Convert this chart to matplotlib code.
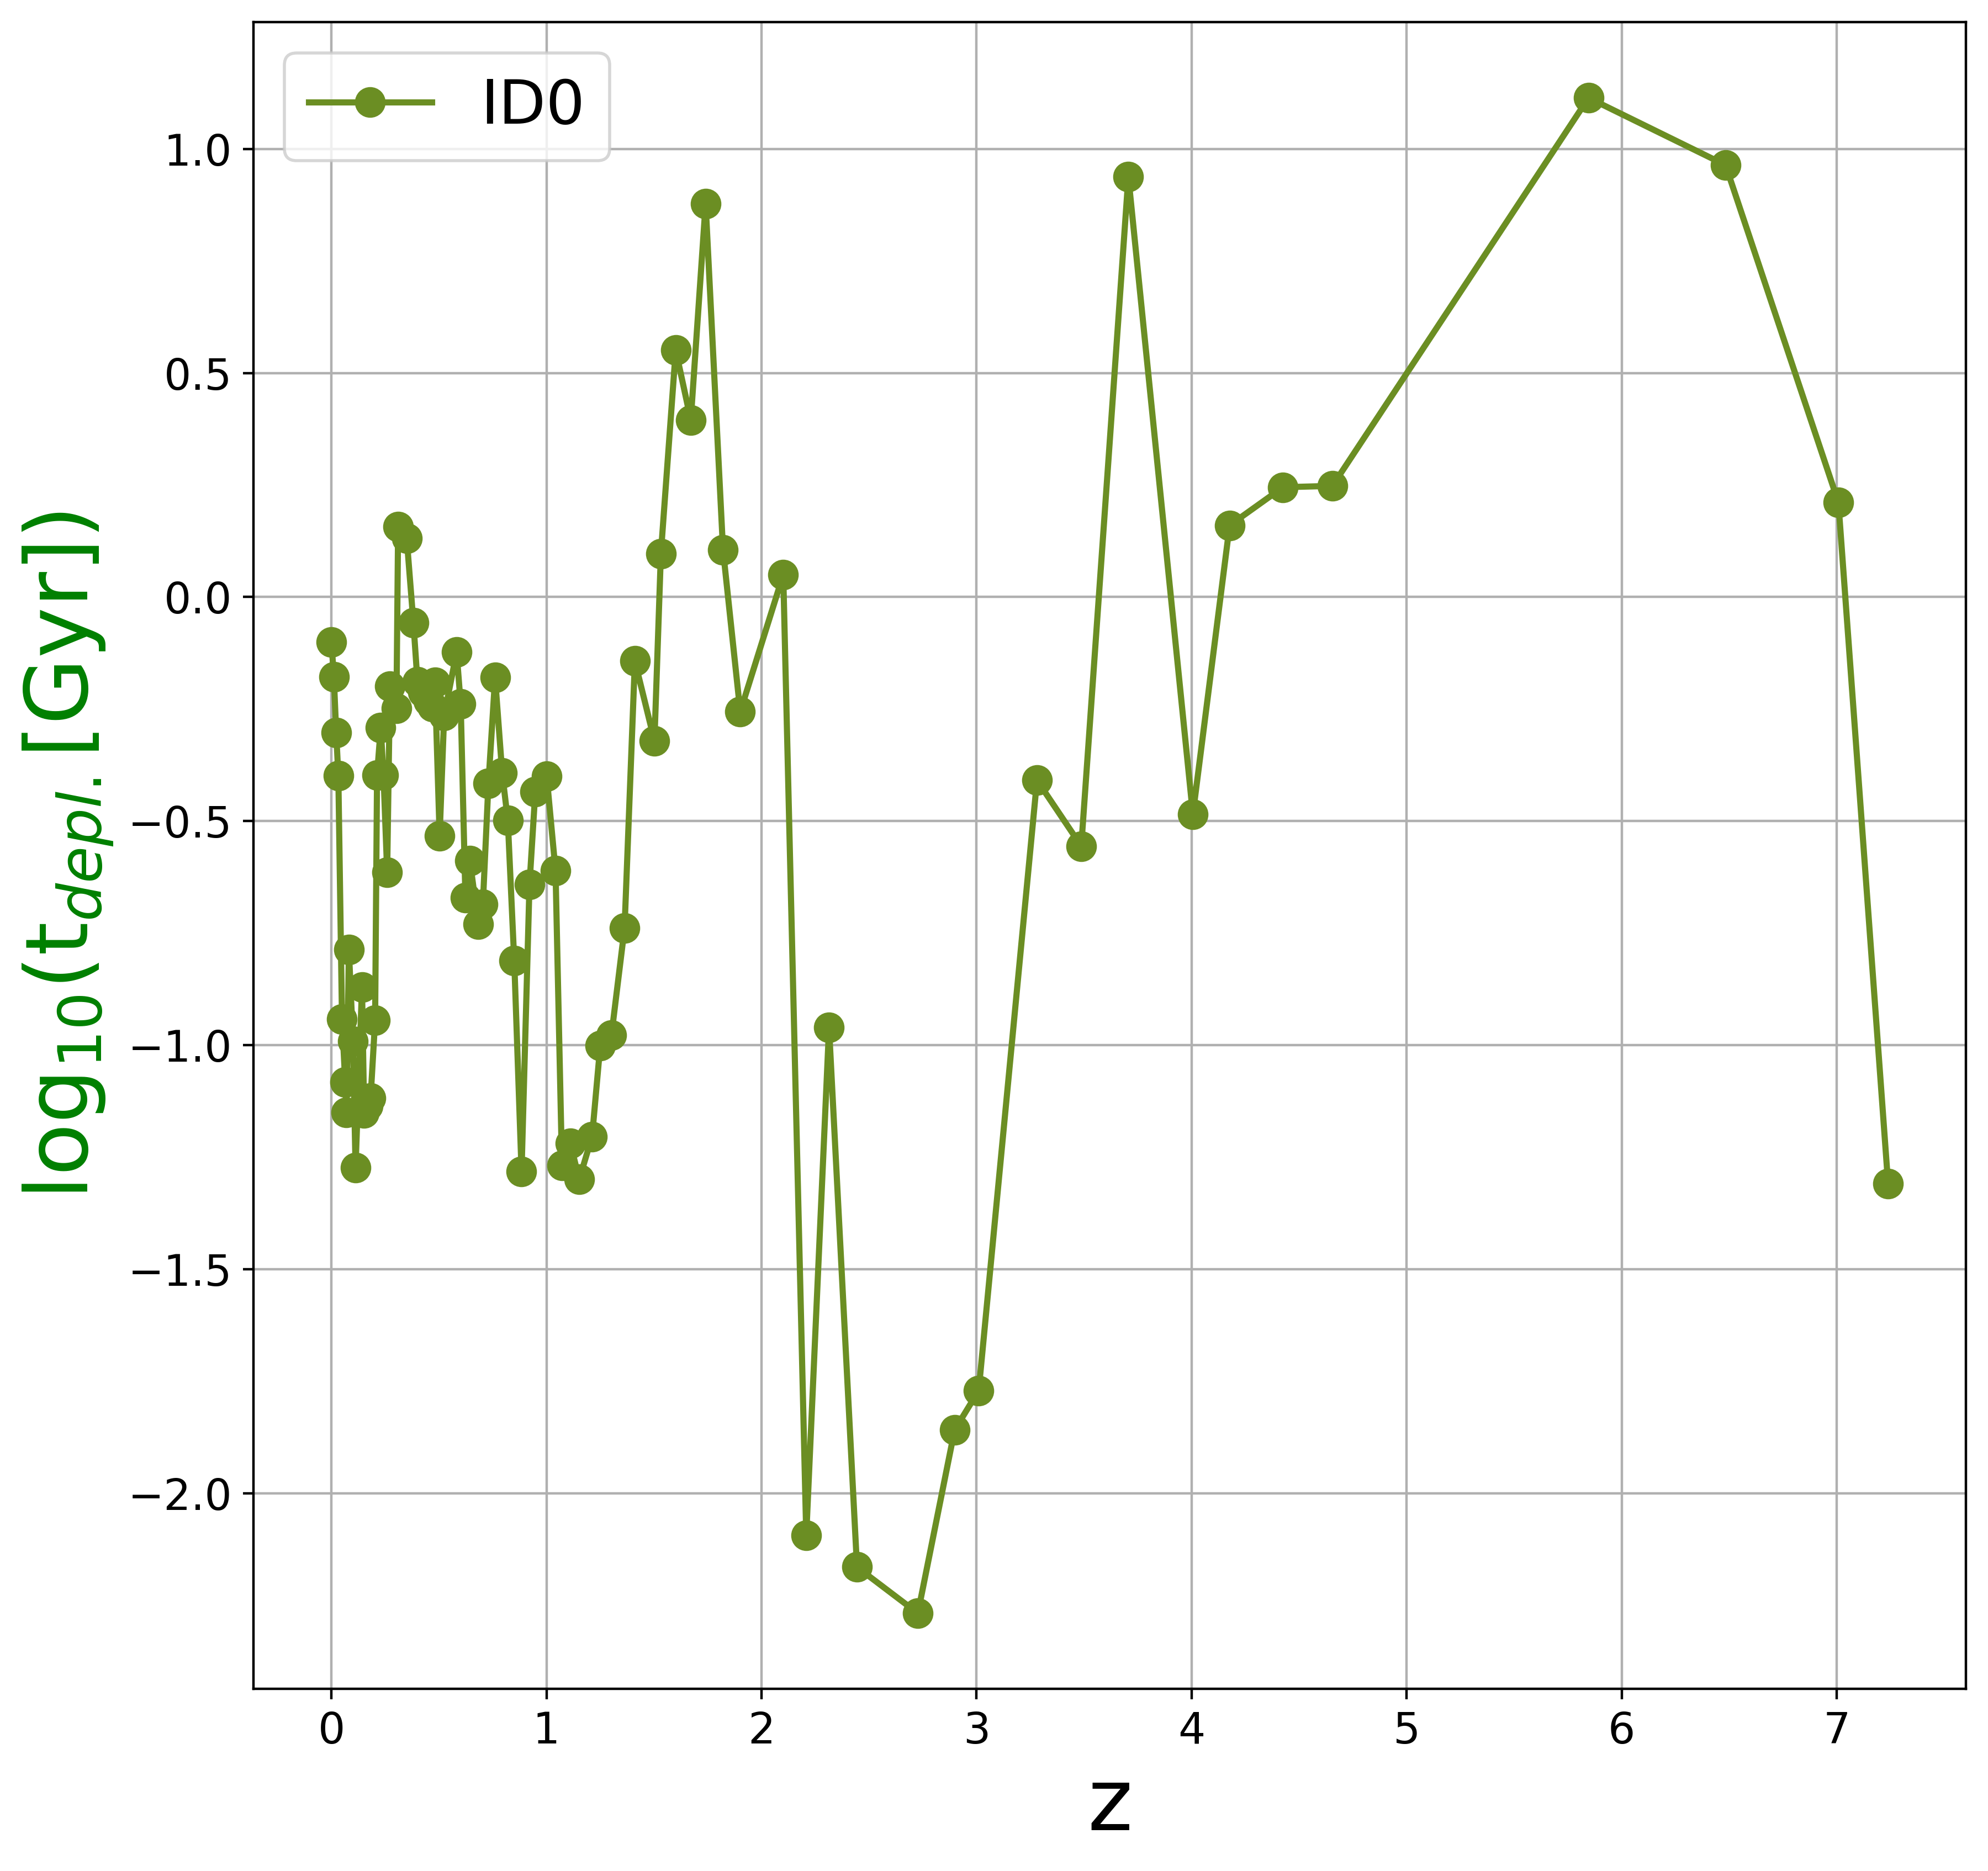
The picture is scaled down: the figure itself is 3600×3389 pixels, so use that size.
import matplotlib
matplotlib.use("Agg")
import matplotlib.pyplot as plt

redshift = [0.000, 0.011, 0.022, 0.032, 0.049, 0.064, 0.070, 0.081, 0.100, 0.112,
            0.142, 0.152, 0.169, 0.182, 0.203, 0.212, 0.229, 0.242, 0.259, 0.272,
            0.302, 0.310, 0.350, 0.381, 0.400, 0.426, 0.452, 0.469, 0.481, 0.503,
            0.524, 0.582, 0.601, 0.623, 0.644, 0.683, 0.704, 0.730, 0.761, 0.794,
            0.820, 0.850, 0.884, 0.921, 0.948, 1.001, 1.042, 1.072, 1.111, 1.152,
            1.212, 1.250, 1.302, 1.363, 1.411, 1.502, 1.532, 1.601, 1.671, 1.740,
            1.821, 1.901, 2.101, 2.208, 2.314, 2.444, 2.727, 2.898, 3.010, 3.281,
            3.487, 3.706, 4.006, 4.177, 4.425, 4.655, 5.846, 6.483, 7.008, 7.239]

log_tdepl = [-0.100, -0.178, -0.303, -0.399, -0.942, -1.083, -1.150, -0.787, -0.991, -1.273,
             -0.871, -1.152, -1.136, -1.118, -0.945, -0.397, -0.292, -0.397, -0.614, -0.199,
             -0.248, 0.157, 0.131, -0.057, -0.189, -0.213, -0.233, -0.245, -0.190, -0.533,
             -0.265, -0.123, -0.239, -0.671, -0.589, -0.730, -0.686, -0.416, -0.180, -0.393,
             -0.498, -0.812, -1.282, -0.641, -0.434, -0.400, -0.611, -1.269, -1.219, -1.300,
             -1.204, -1.001, -0.978, -0.739, -0.143, -0.321, 0.097, 0.551, 0.395, 0.878,
             0.105, -0.256, 0.050, -2.094, -0.961, -2.165, -2.268, -1.859, -1.771, -0.409,
             -0.556, 0.938, -0.485, 0.160, 0.245, 0.248, 1.114, 0.964, 0.211, -1.309]

series_label = "ID0"

fig = plt.figure(figsize=(9.0, 3389 / 400), dpi=400)
ax = fig.add_axes([459.3 / 3600, 1 - 3059.3 / 3389, (3560 - 459.3) / 3600, (3059.3 - 40) / 3389])

ax.plot(redshift, log_tdepl, color="olivedrab", marker="o", linewidth=2, markersize=9,
        label=series_label)

ax.grid(True)
ax.set_axisbelow(True)
ax.tick_params(labelsize=14)
ax.set_xlabel("z", fontsize=28)
ax.set_ylabel(r"log$_{10}$(t$_{depl.}$[Gyr])", fontsize=28, color="green")
ax.legend(loc="upper left", fontsize=20)

fig.savefig("out.png", dpi=400)
